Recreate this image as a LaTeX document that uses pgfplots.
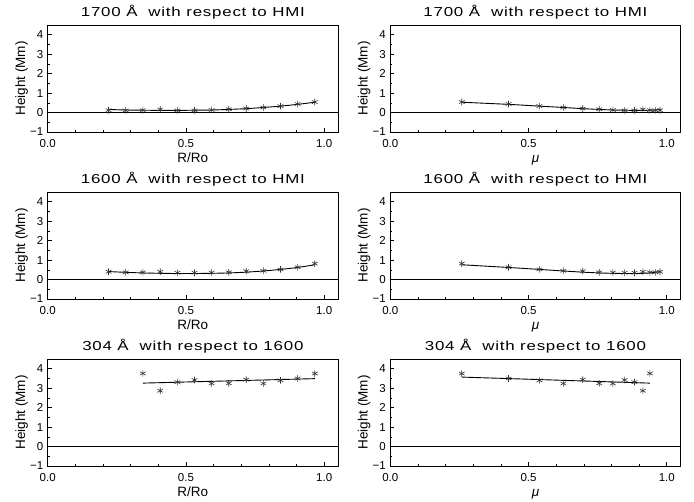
\documentclass[border=0pt]{standalone}
\usepackage{fontspec}
\setmainfont{Liberation Sans}
\newfontfamily\titlefont{Liberation Sans}[FakeStretch=1.3,LetterSpace=6]
\usepackage{pgfplots}
\pgfplotsset{compat=1.18}
\usepackage{pgfplotstable}

% limb distance r, mu = sqrt(1-r^2), measured heights and fitted curves
\pgfplotstableread{
r     mu     h17  f17  h16  f16
0.220 0.9755 0.12 0.16 0.40 0.41
0.282 0.9594 0.11 0.13 0.37 0.37
0.344 0.9390 0.12 0.12 0.37 0.34
0.407 0.9134 0.16 0.11 0.40 0.32
0.469 0.8832 0.11 0.11 0.35 0.31
0.531 0.8474 0.11 0.12 0.35 0.31
0.593 0.8052 0.13 0.13 0.36 0.32
0.655 0.7556 0.17 0.16 0.37 0.34
0.718 0.6961 0.21 0.20 0.43 0.38
0.780 0.6258 0.26 0.26 0.45 0.44
0.842 0.5394 0.33 0.33 0.52 0.52
0.904 0.4276 0.44 0.42 0.63 0.62
0.966 0.2585 0.54 0.53 0.82 0.76
}\uvdata

\pgfplotstableread{
r     mu     h
0.344 0.9390 3.76
0.407 0.9134 2.87
0.469 0.8832 3.31
0.531 0.8474 3.42
0.593 0.8052 3.24
0.655 0.7556 3.25
0.718 0.6961 3.44
0.780 0.6258 3.24
0.842 0.5394 3.40
0.904 0.4276 3.50
0.966 0.2585 3.75
}\hedata

\pgfplotsset{
  panel/.style={
    scale only axis, width=290.3pt, height=107pt, anchor=south west,
    xmin=0, xmax=1.05, ymin=-1, ymax=4.5,
    xtick={0,0.5,1}, xticklabels={0.0,0.5,1.0}, minor x tick num=4,
    ytick={-1,0,1,2,3,4}, yticklabels={−1,0,1,2,3,4}, minor y tick num=1,
    xtick pos=bottom, ytick pos=left, tick align=inside,
    major tick length=4pt, minor tick length=2pt,
    axis line style={line width=0.8pt}, tick style={line width=0.6pt, black},
    ticklabel style={font=\fontsize{11.5}{13}\selectfont},
    yticklabel style={xshift=-1pt},
    xticklabel style={anchor=base, yshift=-16pt},
    label style={font=\fontsize{13.5}{15}\selectfont},
    ylabel={Height (Mm)},
    ylabel style={at={(axis description cs:-0.09,0.5)}, anchor=center},
    xlabel style={at={(axis description cs:0.5,0)}, anchor=base, yshift=-31pt},
    title style={font=\titlefont\fontsize{13}{15}\selectfont, at={(axis description cs:0.5,1)}, anchor=base, yshift=2pt},
  },
  pts/.style={only marks, mark=asterisk, mark size=3.3pt, mark options={black!80, line width=0.6pt}},
  fit/.style={black, line width=0.9pt, no marks},
  zero/.style={black, line width=0.8pt, no marks},
}

\begin{document}
\begin{tikzpicture}
\useasboundingbox (0,0) rectangle (694pt,502pt);

% row 1: 1700
\begin{axis}[panel, at={(47.7pt,370pt)}, xlabel={R/Ro}, title={1700 Å\ \ with respect to HMI}]
\addplot[zero] coordinates {(0,0) (1.05,0)};
\addplot[fit, smooth] table[x=r, y=f17] {\uvdata};
\addplot[pts] table[x=r, y=h17] {\uvdata};
\end{axis}
\begin{axis}[panel, at={(390.3pt,370pt)}, xlabel={\textit{μ}}, title={1700 Å\ \ with respect to HMI}]
\addplot[zero] coordinates {(0,0) (1.05,0)};
\addplot[fit, smooth] table[x=mu, y=f17] {\uvdata};
\addplot[pts] table[x=mu, y=h17] {\uvdata};
\end{axis}

% row 2: 1600
\begin{axis}[panel, at={(47.7pt,203pt)}, xlabel={R/Ro}, title={1600 Å\ \ with respect to HMI}]
\addplot[zero] coordinates {(0,0) (1.05,0)};
\addplot[fit, smooth] table[x=r, y=f16] {\uvdata};
\addplot[pts] table[x=r, y=h16] {\uvdata};
\end{axis}
\begin{axis}[panel, at={(390.3pt,203pt)}, xlabel={\textit{μ}}, title={1600 Å\ \ with respect to HMI}]
\addplot[zero] coordinates {(0,0) (1.05,0)};
\addplot[fit, smooth] table[x=mu, y=f16] {\uvdata};
\addplot[pts] table[x=mu, y=h16] {\uvdata};
\end{axis}

% row 3: 304
\begin{axis}[panel, at={(47.7pt,36pt)}, xlabel={R/Ro}, title={304 Å\ \ with respect to 1600}]
\addplot[zero] coordinates {(0,0) (1.05,0)};
\addplot[fit] coordinates {(0.344,3.26) (0.966,3.49)};
\addplot[pts] table[x=r, y=h] {\hedata};
\end{axis}
\begin{axis}[panel, at={(390.3pt,36pt)}, xlabel={\textit{μ}}, title={304 Å\ \ with respect to 1600}]
\addplot[zero] coordinates {(0,0) (1.05,0)};
\addplot[fit] coordinates {(0.2585,3.57) (0.939,3.26)};
\addplot[pts] table[x=mu, y=h] {\hedata};
\end{axis}
\end{tikzpicture}
\end{document}
